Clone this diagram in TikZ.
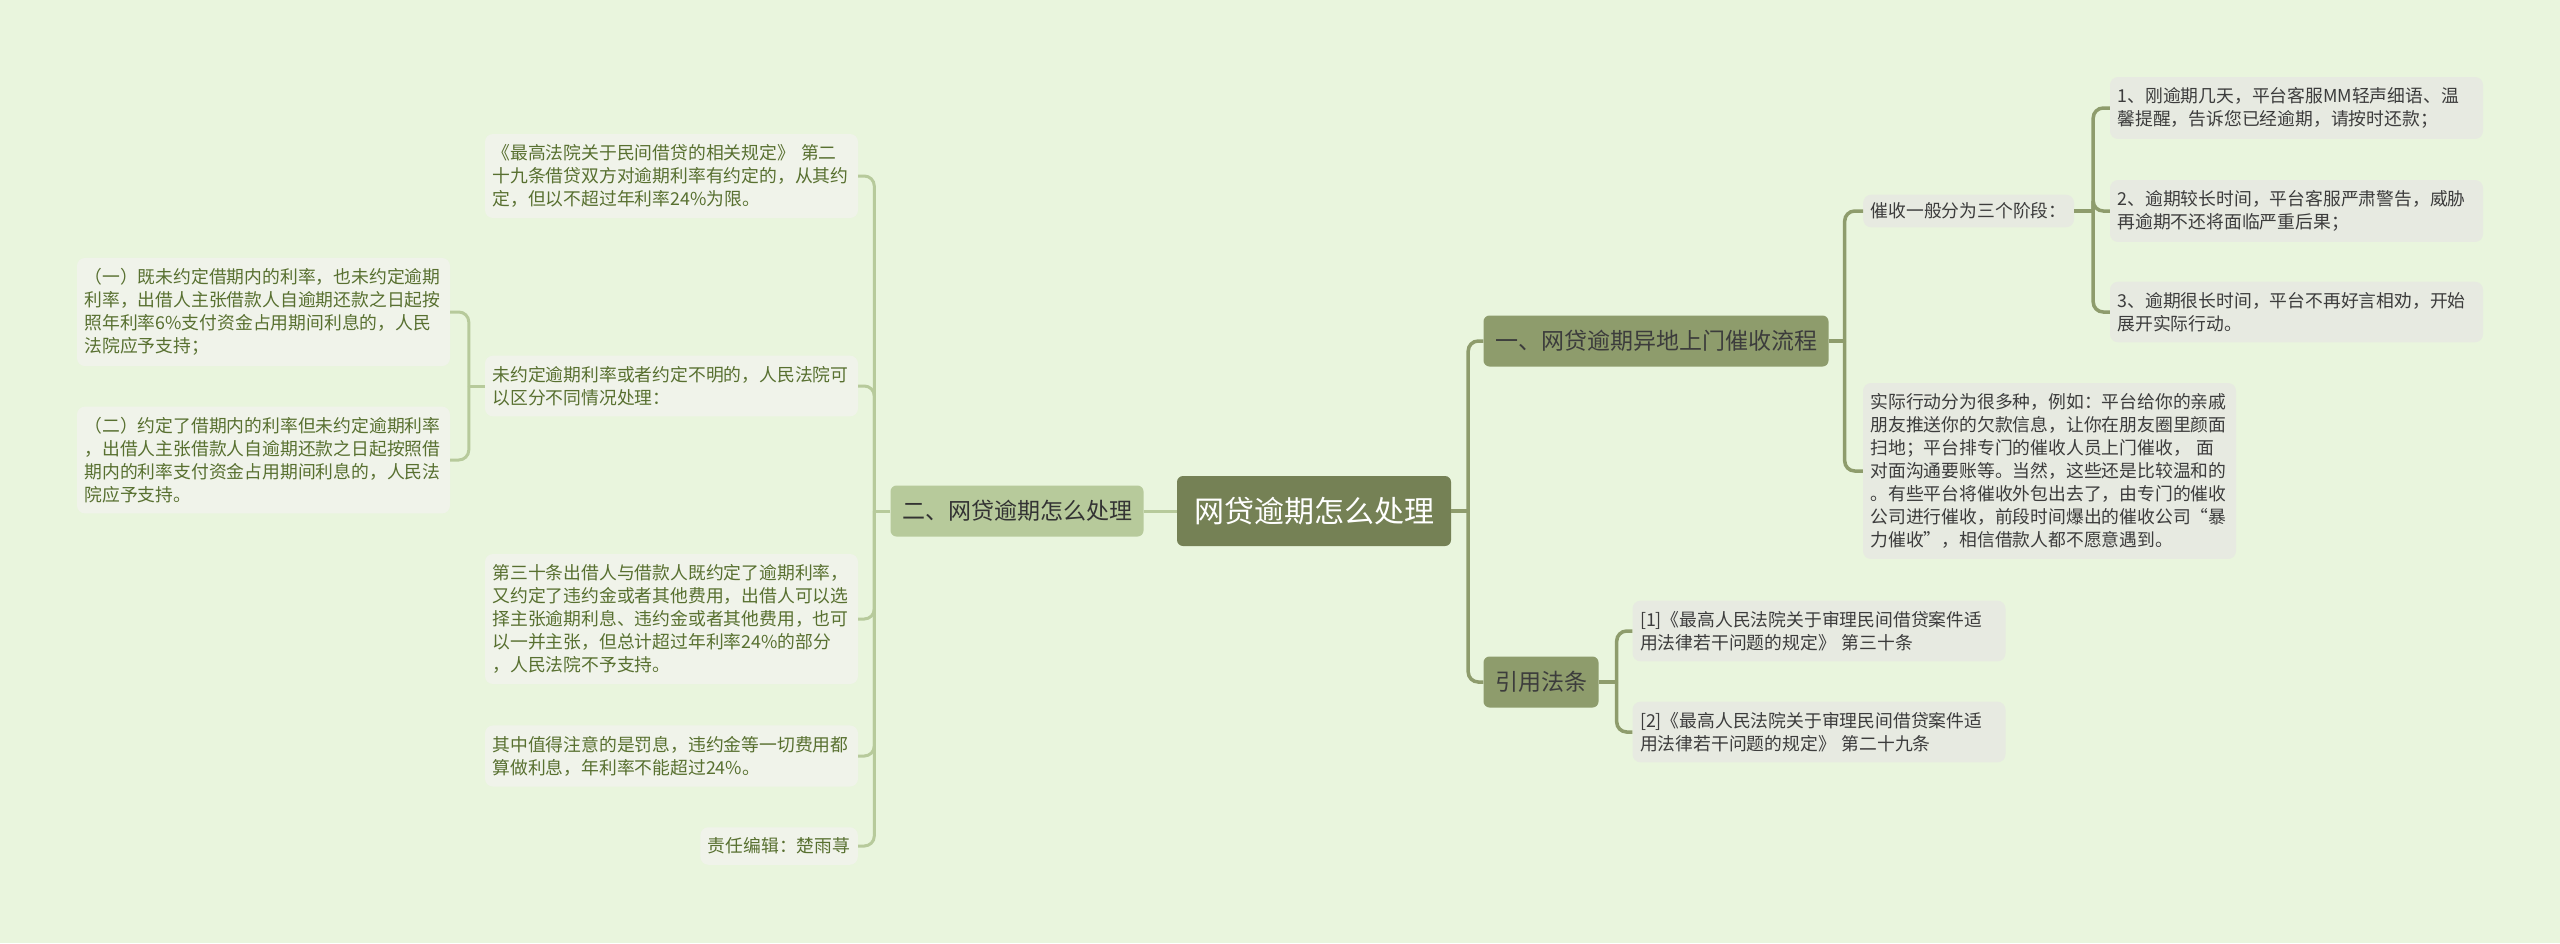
\documentclass[tikz,border=0pt]{standalone}
\usepackage{fontspec}
\setmainfont{Noto Sans CJK SC}
\usepackage{xcolor}
\usepackage{tikz}
\usetikzlibrary{positioning,calc}
\definecolor{bgGreen}{HTML}{E9F5DD}
\definecolor{rootOlive}{HTML}{758155}
\definecolor{branchDark}{HTML}{8E9C6C}
\definecolor{branchLight}{HTML}{B7CA9B}
\definecolor{leafLeft}{HTML}{F0F3EA}
\definecolor{leafRight}{HTML}{E7EAE1}
\definecolor{textOlive}{HTML}{587030}
\definecolor{textDark}{HTML}{3C3C3C}

\begin{document}
\begin{tikzpicture}[
    x=1pt,y=-1pt,
    every node/.style={font=\fontsize{17.8}{23}\selectfont},
    rootbox/.style={rectangle,fill=rootOlive,rounded corners=6pt,text=white,
                  font=\fontsize{30}{36}\selectfont,minimum height=70pt,inner xsep=17pt},
    topicdark/.style={rectangle,fill=branchDark,rounded corners=6pt,text=textDark,
                  font=\fontsize{23}{28}\selectfont,minimum height=51pt,inner xsep=11.5pt},
    topiclight/.style={topicdark,fill=branchLight,text=black!80},
    leafleft/.style={rectangle,fill=leafLeft,rounded corners=8pt,text=textOlive,
                  align=left,text width=358pt,inner xsep=7.5pt,inner ysep=10.5pt},
    leafright/.style={leafleft,fill=leafRight,text=textDark},
    linkleft/.style={draw=branchLight,line width=3pt,rounded corners=10pt},
    linkright/.style={draw=branchDark,line width=3.5pt,rounded corners=10pt}
  ]
  \useasboundingbox[fill=bgGreen] (0,0) rectangle (2560,943);
  %% Centre and main branches
  \node[rootbox] (root) at (1314,511) {网贷逾期怎么处理};
  \node[topiclight] (handle) at (1017,511) {二、网贷逾期怎么处理};
  \node[topicdark] (visit) at (1656,341) {一、网贷逾期异地上门催收流程};
  \node[topicdark] (cite) at (1541,682) {引用法条};
  %% Left side: how to deal with it
  \node[leafleft] (ruleA) at (671.5,176)
    {《最高法院关于民间借贷的相关规定》 第二\\十九条借贷双方对逾期利率有约定的，从其约\\定，但以不超过年利率24\%为限。};
  \node[leafleft] (ruleB) at (671.5,386)
    {未约定逾期利率或者约定不明的，人民法院可\\以区分不同情况处理：};
  \node[leafleft] (ruleC) at (671.5,619)
    {第三十条出借人与借款人既约定了逾期利率，\\又约定了违约金或者其他费用，出借人可以选\\择主张逾期利息、违约金或者其他费用，也可\\以一并主张，但总计超过年利率24\%的部分\\，人民法院不予支持。};
  \node[leafleft] (ruleD) at (671.5,756)
    {其中值得注意的是罚息，违约金等一切费用都\\算做利息，年利率不能超过24\%。};
  \node[leafleft,text width=,anchor=east] (editor) at (858,846) {责任编辑：楚雨荨};
  \node[leafleft] (caseA) at (263.5,312)
    {（一）既未约定借期内的利率，也未约定逾期\\利率，出借人主张借款人自逾期还款之日起按\\照年利率6\%支付资金占用期间利息的，人民\\法院应予支持；};
  \node[leafleft] (caseB) at (263.5,460)
    {（二）约定了借期内的利率但未约定逾期利率\\，出借人主张借款人自逾期还款之日起按照借\\期内的利率支付资金占用期间利息的，人民法\\院应予支持。};
  %% Right side: collection process
  \node[leafright,text width=,anchor=west,inner ysep=8pt] (stages) at (1863,211) {催收一般分为三个阶段：};
  \node[leafright] (stageA) at (2296.5,108)
    {1、刚逾期几天，平台客服MM轻声细语、温\\馨提醒，告诉您已经逾期，请按时还款；};
  \node[leafright] (stageB) at (2296.5,211)
    {2、逾期较长时间，平台客服严肃警告，威胁\\再逾期不还将面临严重后果；};
  \node[leafright] (stageC) at (2296.5,312)
    {3、逾期很长时间，平台不再好言相劝，开始\\展开实际行动。};
  \node[leafright] (action) at (2049.5,471)
    {实际行动分为很多种，例如：平台给你的亲戚\\朋友推送你的欠款信息，让你在朋友圈里颜面\\扫地；平台排专门的催收人员上门催收， 面\\对面沟通要账等。当然，这些还是比较温和的\\。有些平台将催收外包出去了，由专门的催收\\公司进行催收，前段时间爆出的催收公司“暴\\力催收”，相信借款人都不愿意遇到。};
  %% Right side: cited articles
  \node[leafright] (refA) at (1819,631)
    {[1]《最高人民法院关于审理民间借贷案件适\\用法律若干问题的规定》 第三十条};
  \node[leafright] (refB) at (1819,732)
    {[2]《最高人民法院关于审理民间借贷案件适\\用法律若干问题的规定》 第二十九条};
  %% Trunk points
  \coordinate (rootT) at ($(root.east)+(17,0)$);
  \coordinate (handleT) at ($(handle.west)+(-16,0)$);
  \coordinate (ruleBT) at ($(ruleB.west)+(-16,0)$);
  \coordinate (visitT) at ($(visit.east)+(16,0)$);
  \coordinate (stagesT) at ($(stages.east)+(19,0)$);
  \coordinate (citeT) at ($(cite.east)+(18,0)$);
  %% Connectors
  \draw[linkleft] (handle.east) -- (root.west);
  \draw[linkleft] (handle.west) -- (handleT);
  \foreach \c in {ruleA,ruleB,ruleC,ruleD,editor}
    \draw[linkleft] (handleT) |- (\c.east);
  \draw[linkleft] (ruleB.west) -- (ruleBT);
  \foreach \c in {caseA,caseB}
    \draw[linkleft] (ruleBT) |- (\c.east);
  \draw[linkright] (root.east) -- (rootT);
  \foreach \c in {visit,cite}
    \draw[linkright] (rootT) |- (\c.west);
  \draw[linkright] (visit.east) -- (visitT);
  \foreach \c in {stages,action}
    \draw[linkright] (visitT) |- (\c.west);
  \draw[linkright] (stages.east) -- (stagesT);
  \foreach \c in {stageA,stageB,stageC}
    \draw[linkright] (stagesT) |- (\c.west);
  \draw[linkright] (cite.east) -- (citeT);
  \foreach \c in {refA,refB}
    \draw[linkright] (citeT) |- (\c.west);
\end{tikzpicture}
\end{document}
